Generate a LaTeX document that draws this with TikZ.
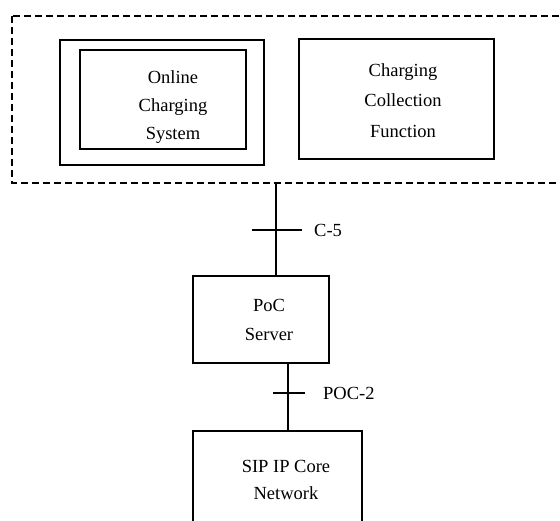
\documentclass[tikz,border=0pt]{standalone}
\usepackage{fontspec}
\setmainfont{Liberation Serif}
\begin{document}
\begin{tikzpicture}[x=1pt,y=-1pt,
  box/.style={draw, line width=1.5pt, inner sep=0pt},
  frame/.style={draw, line width=1.3pt, dash pattern=on 7pt off 4pt},
  wire/.style={line width=1.4pt},
  tick/.style={line width=1.8pt},
  txt/.style={align=center, inner sep=0pt, font=\fontsize{18.5}{#1}\selectfont},
  lbl/.style={anchor=west, inner sep=0pt, font=\fontsize{18.5}{22}\selectfont}]
\useasboundingbox (0,0) rectangle (560,520);
\clip (0,0) rectangle (560,520);

% charging domain (dashed, runs off the right edge)
\coordinate (domNW) at (12,16);
\coordinate (domSE) at (575,183);
\draw[frame] (domNW) rectangle (domSE);

% online charging system: outer and inner frames
\node[box, minimum width=204pt, minimum height=125pt] (ocsout) at (162,102.5) {};
\node[box, minimum width=166pt, minimum height=99pt] (ocsin) at (163,99.5) {};
\node[txt=28pt] (ocstxt) at (173,107) {Online\\Charging\\System};

% charging collection function
\node[box, minimum width=195pt, minimum height=120pt] (ccf) at (396.5,99) {};
\node[txt=30.5pt] (ccftxt) at (403,100.5) {Charging\\Collection\\Function};

% PoC server
\node[box, minimum width=136pt, minimum height=87pt] (poc) at (261,319.5) {};
\node[txt=29pt] (poctxt) at (269,319.5) {PoC\\Server};

% SIP/IP core
\node[box, minimum width=169pt, minimum height=99pt] (sip) at (277.5,480.5) {};
\node[txt=27pt] (siptxt) at (286,479.5) {SIP IP Core\\Network};

% C-5 reference point
\coordinate (c5top) at (276,183);
\draw[wire] (c5top) -- (c5top |- poc.north);
\coordinate (c5l) at (252,230);
\coordinate (c5r) at (302,230);
\draw[tick] (c5l) -- (c5r);
\node[lbl] (c5) at (314,230) {C-5};

% POC-2 reference point
\coordinate (p2) at (288,0);
\draw[wire] (poc.south -| p2) -- (sip.north -| p2);
\coordinate (p2l) at (273,393);
\coordinate (p2r) at (305,393);
\draw[tick] (p2l) -- (p2r);
\node[lbl] (poc2) at (323,393) {POC-2};
\end{tikzpicture}
\end{document}
